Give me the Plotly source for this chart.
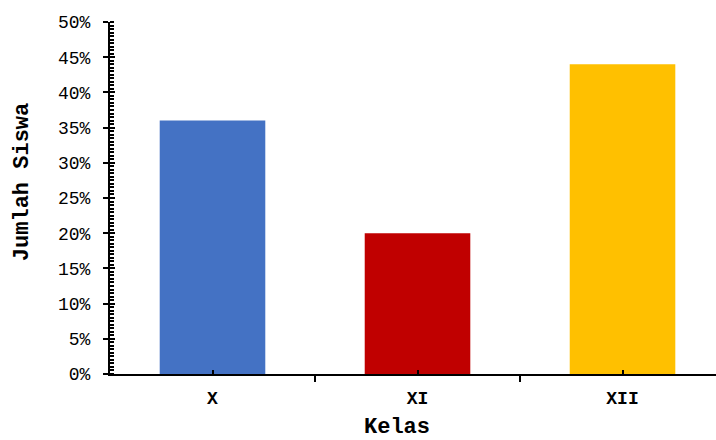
import plotly.graph_objects as go

# Share of students per grade level
kelas = ["X", "XI", "XII"]
persen = [0.36, 0.20, 0.44]
warna = ["#4472C4", "#C00000", "#FFC000"]

pos = list(range(len(kelas)))
FONT = "Liberation Mono, Courier New, monospace"
TITLE_FONT = dict(family=FONT, size=22, weight="bold", color="black")

fig = go.Figure()
fig.add_trace(go.Bar(
    x=pos, y=persen,
    marker=dict(color=warna, line_width=0),
    width=0.515,
    showlegend=False,
    hoverinfo="skip",
))
# helper trace so the overlay axis (inner major ticks) is rendered
fig.add_trace(go.Scatter(x=[None], y=[None], yaxis="y2", showlegend=False))

fig.update_layout(
    width=716, height=440,
    margin=dict(l=110, r=0, t=22, b=66),
    plot_bgcolor="white", paper_bgcolor="white",
    font=dict(family=FONT, color="#000000"),
    xaxis=dict(
        range=[-0.5, 2.456], automargin=False,
        tickmode="array", tickvals=pos, ticktext=kelas,
        ticks="inside", ticklen=4, tickwidth=2, tickcolor="black",
        tickfont=dict(family=FONT, size=18, weight="bold"),
        ticklabelstandoff=6,
        showline=True, linewidth=2, linecolor="black",
        showgrid=False, zeroline=False,
        minor=dict(tickmode="linear", tick0=-0.5, dtick=1,
                   ticks="outside", ticklen=6, tickwidth=2, tickcolor="black",
                   showgrid=False),
    ),
    yaxis=dict(
        range=[0, 0.5], dtick=0.05, tickformat=".0%", automargin=False,
        ticks="outside", ticklen=5, tickwidth=2, tickcolor="black",
        tickfont=dict(family=FONT, size=18),
        ticklabelstandoff=9,
        showline=True, linewidth=2, linecolor="black",
        showgrid=False, zeroline=False,
        minor=dict(dtick=0.005, ticks="inside", ticklen=4, tickwidth=1.5,
                   tickcolor="black", showgrid=False),
    ),
    yaxis2=dict(
        overlaying="y", side="left", range=[0, 0.5], dtick=0.05,
        ticks="inside", ticklen=5, tickwidth=2, tickcolor="black",
        showticklabels=False, showline=False, showgrid=False, zeroline=False,
    ),
    annotations=[
        # axis titles
        dict(text="Kelas", xref="paper", yref="paper", x=0.4736, y=0,
             yshift=-53, xanchor="center", yanchor="middle",
             showarrow=False, font=TITLE_FONT),
        dict(text="Jumlah Siswa", xref="paper", yref="paper", x=0, y=0.545,
             xshift=-88, xanchor="center", yanchor="middle", textangle=-90,
             showarrow=False, font=TITLE_FONT),
    ],
)

fig.write_html("out.html")
